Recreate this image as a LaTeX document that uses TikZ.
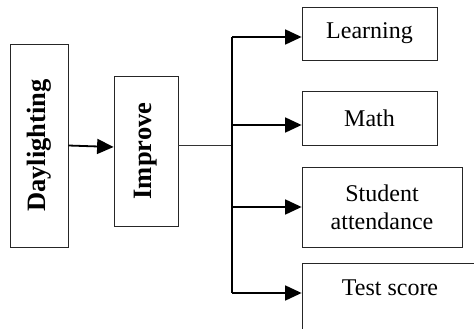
\documentclass[tikz,border=0pt]{standalone}
\usepackage{fontspec}
\setmainfont{Liberation Serif}
\usetikzlibrary{arrows.meta}
\begin{document}
\begin{tikzpicture}[x=1pt,y=-1pt,
  box/.style={draw=black!85,line width=0.8pt,inner sep=0pt,align=center,font=\fontsize{24}{28}\selectfont},
  vbox/.style={draw=black!85,line width=0.8pt,inner sep=0pt,font=\fontsize{26.5}{30}\selectfont\bfseries},
  arr/.style={line width=1.8pt,-{Triangle[length=16.5pt,width=15pt]}},
  thin/.style={line width=0.9pt,draw=black!80}]
\useasboundingbox (0,0) rectangle (474,329);
\clip (0,0) rectangle (474,329);
\node[vbox,minimum width=58pt,minimum height=203pt] (day) at (39,145.5) {};
\node[rotate=90,font=\fontsize{26.5}{30}\selectfont\bfseries] (dayt) at (day.center) {Daylighting};
\node[vbox,minimum width=64pt,minimum height=150pt] (imp) at (146,151) {};
\node[rotate=90,font=\fontsize{26.5}{30}\selectfont\bfseries] (impt) at (imp.center) {Improve};
\node[box,minimum width=135pt,minimum height=53pt] (learn) at (369.5,33.5) {Learning};
\node[box,minimum width=135pt,minimum height=54pt] (math) at (369.5,118) {Math};
\node[box,minimum width=160pt,minimum height=80pt] (stud) at (382,207) {Student\\attendance};
\node[box,minimum width=176pt,minimum height=72pt] (test) at (390,299) {};
\node[font=\fontsize{24}{28}\selectfont] (testt) at (390,288) {Test score};
\coordinate (bus0) at (232,145);
\coordinate (bus1) at (232,37);
\coordinate (bus2) at (232,125);
\coordinate (bus3) at (232,207);
\coordinate (bus4) at (232,293);
\draw[arr] (day.east) -- ([yshift=4pt]imp.west);
\draw[thin] ([yshift=6pt]imp.east) -- (bus0);
\draw[line width=1.2pt] (bus1) -- (bus4);
\draw[arr] (bus1) -- (bus1 -| learn.west);
\draw[arr] (bus2) -- (bus2 -| math.west);
\draw[arr] (bus3) -- (bus3 -| stud.west);
\draw[arr] (bus4) -- (bus4 -| test.west);
\end{tikzpicture}
\end{document}
